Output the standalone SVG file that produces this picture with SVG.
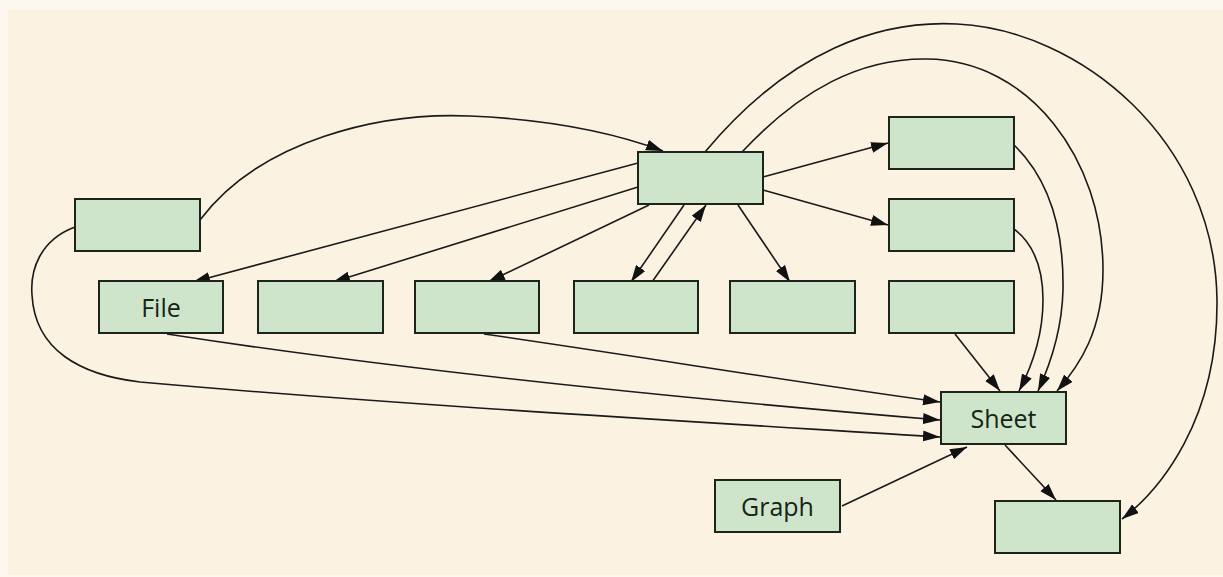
<svg xmlns="http://www.w3.org/2000/svg" width="1223" height="577" viewBox="0 0 1223 577">
  <defs>
    <style>
      .node rect { fill: #cfe5cb; stroke: #1c241c; stroke-width: 2; }
      .node text { font-family: "Open Sans", "Noto Sans", "Liberation Sans", sans-serif; font-size: 25px; fill: #172317; text-anchor: middle; dominant-baseline: central; }
      #connectors path { fill: none; stroke: #1a1a1a; stroke-width: 1.6; marker-end: url(#arrow); }
    </style>
    <marker id="arrow" markerUnits="userSpaceOnUse" markerWidth="18" markerHeight="12" refX="17" refY="5.5" orient="auto">
      <path d="M0,0 L17,5.5 L0,11 z" fill="#111"/>
    </marker>
  </defs>

  <!-- page background -->
  <rect x="0" y="0" width="1223" height="577" fill="#fdf8ef"/>
  <rect x="8" y="10" width="1215" height="565" fill="#fcf2e2"/>

  <!-- connectors -->
  <g id="connectors">
    <path d="M200,220 C260,140 380,112 470,116 C560,120 620,135 663,151"/>
    <path d="M75,227 C40,240 30,270 32,295 C35,350 80,375 140,382 C400,405 700,422 940,437"/>
    <path d="M638,163 L193,282"/>
    <path d="M638,187 L333,282"/>
    <path d="M649,205 L488,282"/>
    <path d="M684,205 L631,282"/>
    <path d="M652,282 L706,205"/>
    <path d="M738,205 L790,282"/>
    <path d="M763,177 L888,143"/>
    <path d="M763,190 L888,225"/>
    <path d="M705,152 C790,50 880,20 957,24 C1080,30 1215,140 1217,300 C1218,420 1160,490 1122,519"/>
    <path d="M742,152 C800,90 860,58 927,59 C1030,60 1103,160 1103,270 C1103,330 1080,365 1057,391"/>
    <path d="M1014,145 C1050,180 1064,230 1063,290 C1062,330 1050,365 1038,391"/>
    <path d="M1014,229 C1035,245 1043,270 1043,300 C1043,340 1030,370 1019,391"/>
    <path d="M955,334 L1000,391"/>
    <path d="M167,334 C400,370 700,400 940,420"/>
    <path d="M484,334 C650,358 800,383 940,402"/>
    <path d="M842,506 L967,447"/>
    <path d="M1005,445 L1056,500"/>
  </g>

  <!-- nodes -->
  <g id="node-left" class="node"><rect x="75" y="199" width="125" height="52"/></g>
  <g id="node-top" class="node"><rect x="638" y="152" width="125" height="52"/></g>
  <g id="node-right1" class="node"><rect x="889" y="117" width="125" height="52"/></g>
  <g id="node-right2" class="node"><rect x="889" y="199" width="125" height="52"/></g>
  <g id="node-file" class="node"><rect x="99" y="281" width="124" height="52"/><text x="161" y="307">File</text></g>
  <g id="node-row2" class="node"><rect x="258" y="281" width="125" height="52"/></g>
  <g id="node-row3" class="node"><rect x="415" y="281" width="124" height="52"/></g>
  <g id="node-row4" class="node"><rect x="574" y="281" width="124" height="52"/></g>
  <g id="node-row5" class="node"><rect x="730" y="281" width="125" height="52"/></g>
  <g id="node-row6" class="node"><rect x="889" y="281" width="125" height="52"/></g>
  <g id="node-sheet" class="node"><rect x="941" y="392" width="125" height="52"/><text x="1003.5" y="418">Sheet</text></g>
  <g id="node-graph" class="node"><rect x="715" y="480" width="125" height="52"/><text x="777.5" y="506">Graph</text></g>
  <g id="node-bottom" class="node"><rect x="995" y="501" width="125" height="52"/></g>
</svg>
